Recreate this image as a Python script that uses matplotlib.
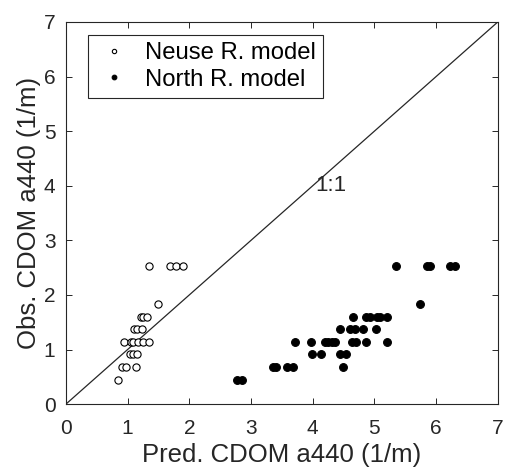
import numpy as np
import matplotlib.pyplot as plt

plt.rcParams['font.family'] = ['Liberation Sans', 'DejaVu Sans']

# Neuse R. model (open circles)
neuse_pred = [1.34, 1.69, 1.79, 1.89,
              1.49,
              1.22, 1.25, 1.32,
              1.10, 1.16, 1.23,
              0.94, 1.05, 1.09, 1.17, 1.25, 1.35,
              1.04, 1.09, 1.15,
              0.91, 0.98, 1.13,
              0.84]
neuse_obs = [2.53, 2.53, 2.53, 2.53,
             1.84,
             1.60, 1.60, 1.60,
             1.37, 1.37, 1.37,
             1.14, 1.14, 1.14, 1.14, 1.14, 1.14,
             0.91, 0.91, 0.91,
             0.68, 0.68, 0.68,
             0.45]

# North R. model (filled dots)
north_pred = [5.35, 5.85, 5.90, 6.23, 6.30,
              5.74,
              4.66, 4.87, 4.93, 5.04, 5.09, 5.20,
              4.44, 4.60, 4.68, 4.82, 5.02,
              3.71, 3.97, 4.20, 4.25, 4.31, 4.36, 4.63, 4.70, 4.86, 5.20,
              3.99, 4.13, 4.44, 4.54,
              3.35, 3.41, 3.59, 3.68, 4.49,
              2.78, 2.85]
north_obs = [2.53, 2.53, 2.53, 2.53, 2.53,
             1.84,
             1.60, 1.60, 1.60, 1.60, 1.60, 1.60,
             1.37, 1.37, 1.37, 1.37, 1.37,
             1.14, 1.14, 1.14, 1.14, 1.14, 1.14, 1.14, 1.14, 1.14, 1.14,
             0.91, 0.91, 0.91, 0.91,
             0.68, 0.68, 0.68, 0.68, 0.68,
             0.45, 0.45]

ticks = np.arange(0, 8)
dark = '#262626'

fig = plt.figure(figsize=(5.07, 4.76), dpi=100)
ax = fig.add_axes([0.130, 0.151, 0.852, 0.803])

ax.plot([0, 7], [0, 7], color=dark, lw=0.9)
ax.plot(neuse_pred, neuse_obs, 'o', mfc='white', mec='black', ms=5.2, mew=0.8,
        label='Neuse R. model')
ax.plot(north_pred, north_obs, 'o', mfc='black', mec='black', ms=5.6, mew=0.8,
        label='North R. model')
ax.text(4.3, 4.0, '1:1', fontsize=16, ha='center', va='center', color=dark)

ax.set_xlim(0, 7)
ax.set_ylim(0, 7)
ax.set_xticks(ticks)
ax.set_yticks(ticks)
ax.tick_params(direction='in', top=True, right=True, labelsize=15, length=4,
               width=0.7, color=dark, labelcolor=dark)
ax.tick_params(axis='x', pad=10.5)
ax.tick_params(axis='y', pad=7.5)
for s in ax.spines.values():
    s.set_color(dark)
    s.set_linewidth(0.8)
ax.set_xlabel('Pred. CDOM a440 (1/m)', fontsize=18.5, color=dark, labelpad=4)
ax.set_ylabel('Obs. CDOM a440 (1/m)', fontsize=18.5, color=dark, labelpad=2)

leg = ax.legend(loc='upper left', bbox_to_anchor=(0.05, 0.966), fontsize=17.2,
                markerscale=0.6, fancybox=False, framealpha=1,
                edgecolor=dark, handletextpad=0.5, borderpad=0.3,
                labelspacing=0.2, handlelength=1.6, borderaxespad=0)
leg.get_frame().set_linewidth(0.8)

fig.savefig('out.png', dpi=100)
